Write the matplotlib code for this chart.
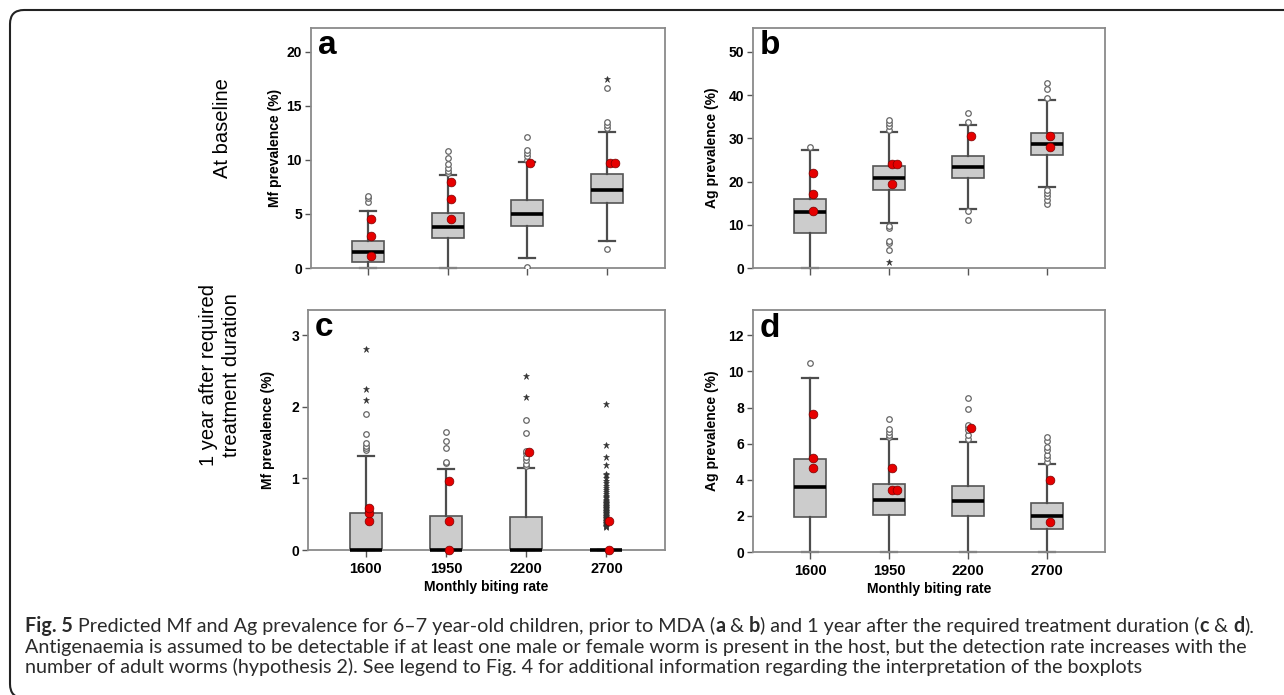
import matplotlib
matplotlib.use("Agg")
import matplotlib.pyplot as plt
from matplotlib.patches import FancyBboxPatch
from matplotlib.transforms import IdentityTransform

W, H = 1284, 695

rates = ["1600", "1950", "2200", "2700"]

# a: Mf prevalence at baseline
base_mf_q1 = [0.52, 2.74, 3.88, 6.04]
base_mf_med = [1.45, 3.82, 4.99, 7.24]
base_mf_q3 = [2.47, 5.08, 6.26, 8.69]
base_mf_lo = [0.0, 0.0, 0.96, 2.53]
base_mf_hi = [5.27, 8.57, 9.77, 12.57]
base_mf_out = [[6.07, 6.5, 6.63],
               [8.78, 8.94, 9.25, 9.65, 10.14, 10.85],
               [0.06, 10.02, 10.32, 10.63, 10.94, 12.14],
               [1.76, 12.94, 13.25, 13.5, 16.64]]
base_mf_ext = [[], [], [], [17.5]]
base_mf_obs = [[1.1, 2.96, 4.5], [4.5, 6.41, 7.92], [9.71], [9.71, 9.71]]

# b: Ag prevalence at baseline
base_ag_q1 = [8.17, 18.1, 20.8, 26.12]
base_ag_med = [12.87, 20.72, 23.34, 28.58]
base_ag_q3 = [16.02, 23.5, 25.96, 31.2]
base_ag_lo = [0.0, 10.48, 13.71, 18.64]
base_ag_hi = [27.27, 31.36, 33.05, 38.9]
base_ag_out = [[28.04],
               [4.08, 5.78, 6.16, 9.24, 9.63, 31.97, 32.9, 33.5, 34.28],
               [11.02, 13.17, 33.8, 35.9],
               [14.79, 15.79, 16.56, 17.26, 17.95, 39.37, 41.37, 42.68]]
base_ag_ext = [[], [1.39], [], []]
base_ag_obs = [[13.25, 17.03, 21.96], [19.41, 23.96, 23.96], [30.43], [27.89, 30.43]]

# c: Mf prevalence 1 year after treatment
post_mf_q1 = [0.0, 0.0, 0.0, 0.0]
post_mf_med = [0.0, 0.0, 0.0, 0.0]
post_mf_q3 = [0.516, 0.47, 0.456, 0.0]
post_mf_lo = [0.0, 0.0, 0.0, 0.0]
post_mf_hi = [1.307, 1.13, 1.14, 0.0]
post_mf_out = [[1.40, 1.42, 1.45, 1.49, 1.62, 1.90],
               [1.22, 1.23, 1.43, 1.52, 1.65],
               [1.17, 1.20, 1.25, 1.30, 1.35, 1.38, 1.64, 1.81],
               []]
post_mf_ext = [[2.09, 2.25, 2.81],
               [],
               [2.13, 2.43],
               [0.32, 0.33, 0.34, 0.35, 0.36, 0.37, 0.38, 0.39, 0.40, 0.41,
                0.42, 0.43, 0.44, 0.45, 0.46, 0.47, 0.48, 0.49, 0.50, 0.51,
                0.52, 0.53, 0.54, 0.55, 0.56, 0.57, 0.58, 0.59, 0.60, 0.61,
                0.62, 0.63, 0.64, 0.65, 0.66, 0.67, 0.68, 0.70, 0.72, 0.74,
                0.76, 0.78, 0.81, 0.84, 0.87, 0.89, 0.93, 0.97, 1.01, 1.04,
                1.06, 1.18, 1.30, 1.47, 2.04]]
post_mf_obs = [[0.41, 0.52, 0.59], [0.0, 0.41, 0.97], [1.37], [0.0, 0.41]]

# d: Ag prevalence 1 year after treatment
post_ag_q1 = [1.96, 2.07, 1.98, 1.27]
post_ag_med = [3.6, 2.86, 2.82, 1.98]
post_ag_q3 = [5.15, 3.77, 3.66, 2.73]
post_ag_lo = [0.0, 0.0, 0.0, 0.0]
post_ag_hi = [9.62, 6.26, 6.09, 4.86]
post_ag_out = [[10.45],
               [6.37, 6.5, 6.65, 6.79, 7.38],
               [6.28, 6.5, 6.74, 6.92, 7.05, 7.92, 8.55],
               [4.98, 5.22, 5.35, 5.67, 5.82, 6.17, 6.35]]
post_ag_ext = [[], [], [], []]
post_ag_obs = [[4.63, 5.21, 7.62], [3.43, 3.43, 4.63], [6.89], [1.66, 3.99]]

POS = [1, 2, 3, 4]
AX_FONT = "Liberation Sans"


def px_axes(fig, left, top, right, bottom):
    return fig.add_axes([left / W, 1 - bottom / H, (right - left) / W, (bottom - top) / H])


def draw_panel(ax, q1, med, q3, lo, hi, out, ext, obs, ymax, yticks,
               letter, ylabel, label_x, show_x):
    stats = [dict(q1=a, med=m, q3=b, whislo=l, whishi=h, fliers=[])
             for a, m, b, l, h in zip(q1, med, q3, lo, hi)]
    arts = ax.bxp(stats, positions=POS, widths=0.4, capwidths=0.2,
                  patch_artist=True, showfliers=False, manage_ticks=False,
                  boxprops=dict(facecolor="#cccccc", edgecolor="#555555", linewidth=1.2),
                  medianprops=dict(color="black", linewidth=2.6, solid_capstyle="butt"),
                  whiskerprops=dict(color="#4d4d4d", linewidth=1.6),
                  capprops=dict(color="#4d4d4d", linewidth=1.6))
    for group in arts.values():
        for a in group:
            a.set_clip_on(False)
    for a in arts["medians"]:
        a.set_zorder(3)

    for x, o, e, r in zip(POS, out, ext, obs):
        ax.plot([x] * len(o), o, "o", ms=4, mfc="white", mec="#666666",
                mew=0.9, ls="none", zorder=4)
        ax.plot([x] * len(e), e, "*", ms=4.5, color="#333333", mew=0.4,
                ls="none", zorder=4)
        seen = {}
        for v in r:
            k = seen.get(v, 0)
            seen[v] = k + 1
            ax.plot(x + 0.035 + 0.07 * k, v, "o", ms=6.3, mfc="#e60000",
                    mec="#7a0000", mew=0.5, zorder=6, clip_on=False)

    ax.set_xlim(0.28, 4.73)
    ax.set_ylim(0, ymax)
    ax.set_yticks(yticks)
    ax.set_xticks(POS)
    ax.set_xticklabels(rates if show_x else [])
    for s in ax.spines.values():
        s.set_color("#8a8a8a")
        s.set_linewidth(1.3)
    ax.tick_params(axis="y", length=4, width=1, color="#555555", pad=2.5,
                   labelsize=10)
    ax.tick_params(axis="x", length=5, width=1, color="#555555", pad=3.5,
                   labelsize=10.5)
    for t in ax.get_yticklabels() + ax.get_xticklabels():
        t.set_fontweight("bold")
        t.set_family(AX_FONT)
    ax.set_ylabel(ylabel, fontsize=10, fontweight="bold", family=AX_FONT)
    ax.yaxis.set_label_coords(label_x, 0.5)
    if show_x:
        ax.set_xlabel("Monthly biting rate", fontsize=10, fontweight="bold",
                      family=AX_FONT, labelpad=3)
    ax.text(0.02, 0.89, letter, transform=ax.transAxes, fontsize=24,
            fontweight="bold", family=AX_FONT, va="baseline", ha="left")


fig = plt.figure(figsize=(W / 100, H / 100), dpi=100)

ax_a = px_axes(fig, 311, 28, 665, 268)
ax_b = px_axes(fig, 753, 28, 1105, 268)
ax_c = px_axes(fig, 308, 310, 665, 550)
ax_d = px_axes(fig, 753, 310, 1105, 552)

draw_panel(ax_a, base_mf_q1, base_mf_med, base_mf_q3, base_mf_lo, base_mf_hi,
           base_mf_out, base_mf_ext, base_mf_obs, 22.2, [0, 5, 10, 15, 20],
           "a", "Mf prevalence (%)", -0.082, False)
draw_panel(ax_b, base_ag_q1, base_ag_med, base_ag_q3, base_ag_lo, base_ag_hi,
           base_ag_out, base_ag_ext, base_ag_obs, 55.5, [0, 10, 20, 30, 40, 50],
           "b", "Ag prevalence (%)", -0.097, False)
draw_panel(ax_c, post_mf_q1, post_mf_med, post_mf_q3, post_mf_lo, post_mf_hi,
           post_mf_out, post_mf_ext, post_mf_obs, 3.35, [0, 1, 2, 3],
           "c", "Mf prevalence (%)", -0.092, True)
draw_panel(ax_d, post_ag_q1, post_ag_med, post_ag_q3, post_ag_lo, post_ag_hi,
           post_ag_out, post_ag_ext, post_ag_obs, 13.4, [0, 2, 4, 6, 8, 10, 12],
           "d", "Ag prevalence (%)", -0.097, True)

# row labels
fig.text(222 / W, 1 - 128 / H, "At baseline", rotation=90, ha="center",
         va="center", fontsize=14.5, family=AX_FONT)
fig.text(220 / W, 1 - 375 / H, "1 year after required\ntreatment duration",
         rotation=90, ha="center", va="center", multialignment="center",
         fontsize=14.5, family=AX_FONT, linespacing=1.25)

# rounded frame around figure + caption
frame = FancyBboxPatch((10, -3), 1320, 688, boxstyle="round,pad=0,rounding_size=14",
                       transform=IdentityTransform(), fill=False,
                       edgecolor="#222222", linewidth=1.5)
fig.add_artist(frame)

CAP_FONT = "Lato"
CAP_COLOR = "#2b2b2b"
renderer = fig.canvas.get_renderer()


def text_width(s, size, weight):
    t = fig.text(0, 0, "x" + s + "x", fontsize=size, fontweight=weight,
                 family=CAP_FONT, transform=IdentityTransform())
    w1 = t.get_window_extent(renderer).width
    t.remove()
    t = fig.text(0, 0, "xx", fontsize=size, fontweight=weight,
                 family=CAP_FONT, transform=IdentityTransform())
    w2 = t.get_window_extent(renderer).width
    t.remove()
    return w1 - w2


def rich_line(parts, x, y_top, size):
    for s, weight in parts:
        fig.text(x, H - y_top, s, fontsize=size, fontweight=weight,
                 family=CAP_FONT, color=CAP_COLOR, va="baseline", ha="left",
                 transform=IdentityTransform())
        x += text_width(s, size, weight)


line1 = [("Fig. 5", "bold"),
         (" Predicted Mf and Ag prevalence for 6\u20137 year-old children, prior to MDA (", "normal"),
         ("a", "bold"), (" & ", "normal"), ("b", "bold"),
         (") and 1 year after the required treatment duration (", "normal"),
         ("c", "bold"), (" & ", "normal"), ("d", "bold"), (").", "normal")]
line2 = [("Antigenaemia is assumed to be detectable if at least one male or female worm "
          "is present in the host, but the detection rate increases with the", "normal")]
line3 = [("number of adult worms (hypothesis 2). See legend to Fig. 4 for additional "
          "information regarding the interpretation of the boxplots", "normal")]

base = 10.0
w_line1 = sum(text_width(s, base, w) for s, w in line1)
cap_size = base * 1230 / w_line1

rich_line(line1, 25, 632, cap_size)
rich_line(line2, 25, 653, cap_size)
rich_line(line3, 25, 673, cap_size)

fig.savefig("out.png", dpi=100)
